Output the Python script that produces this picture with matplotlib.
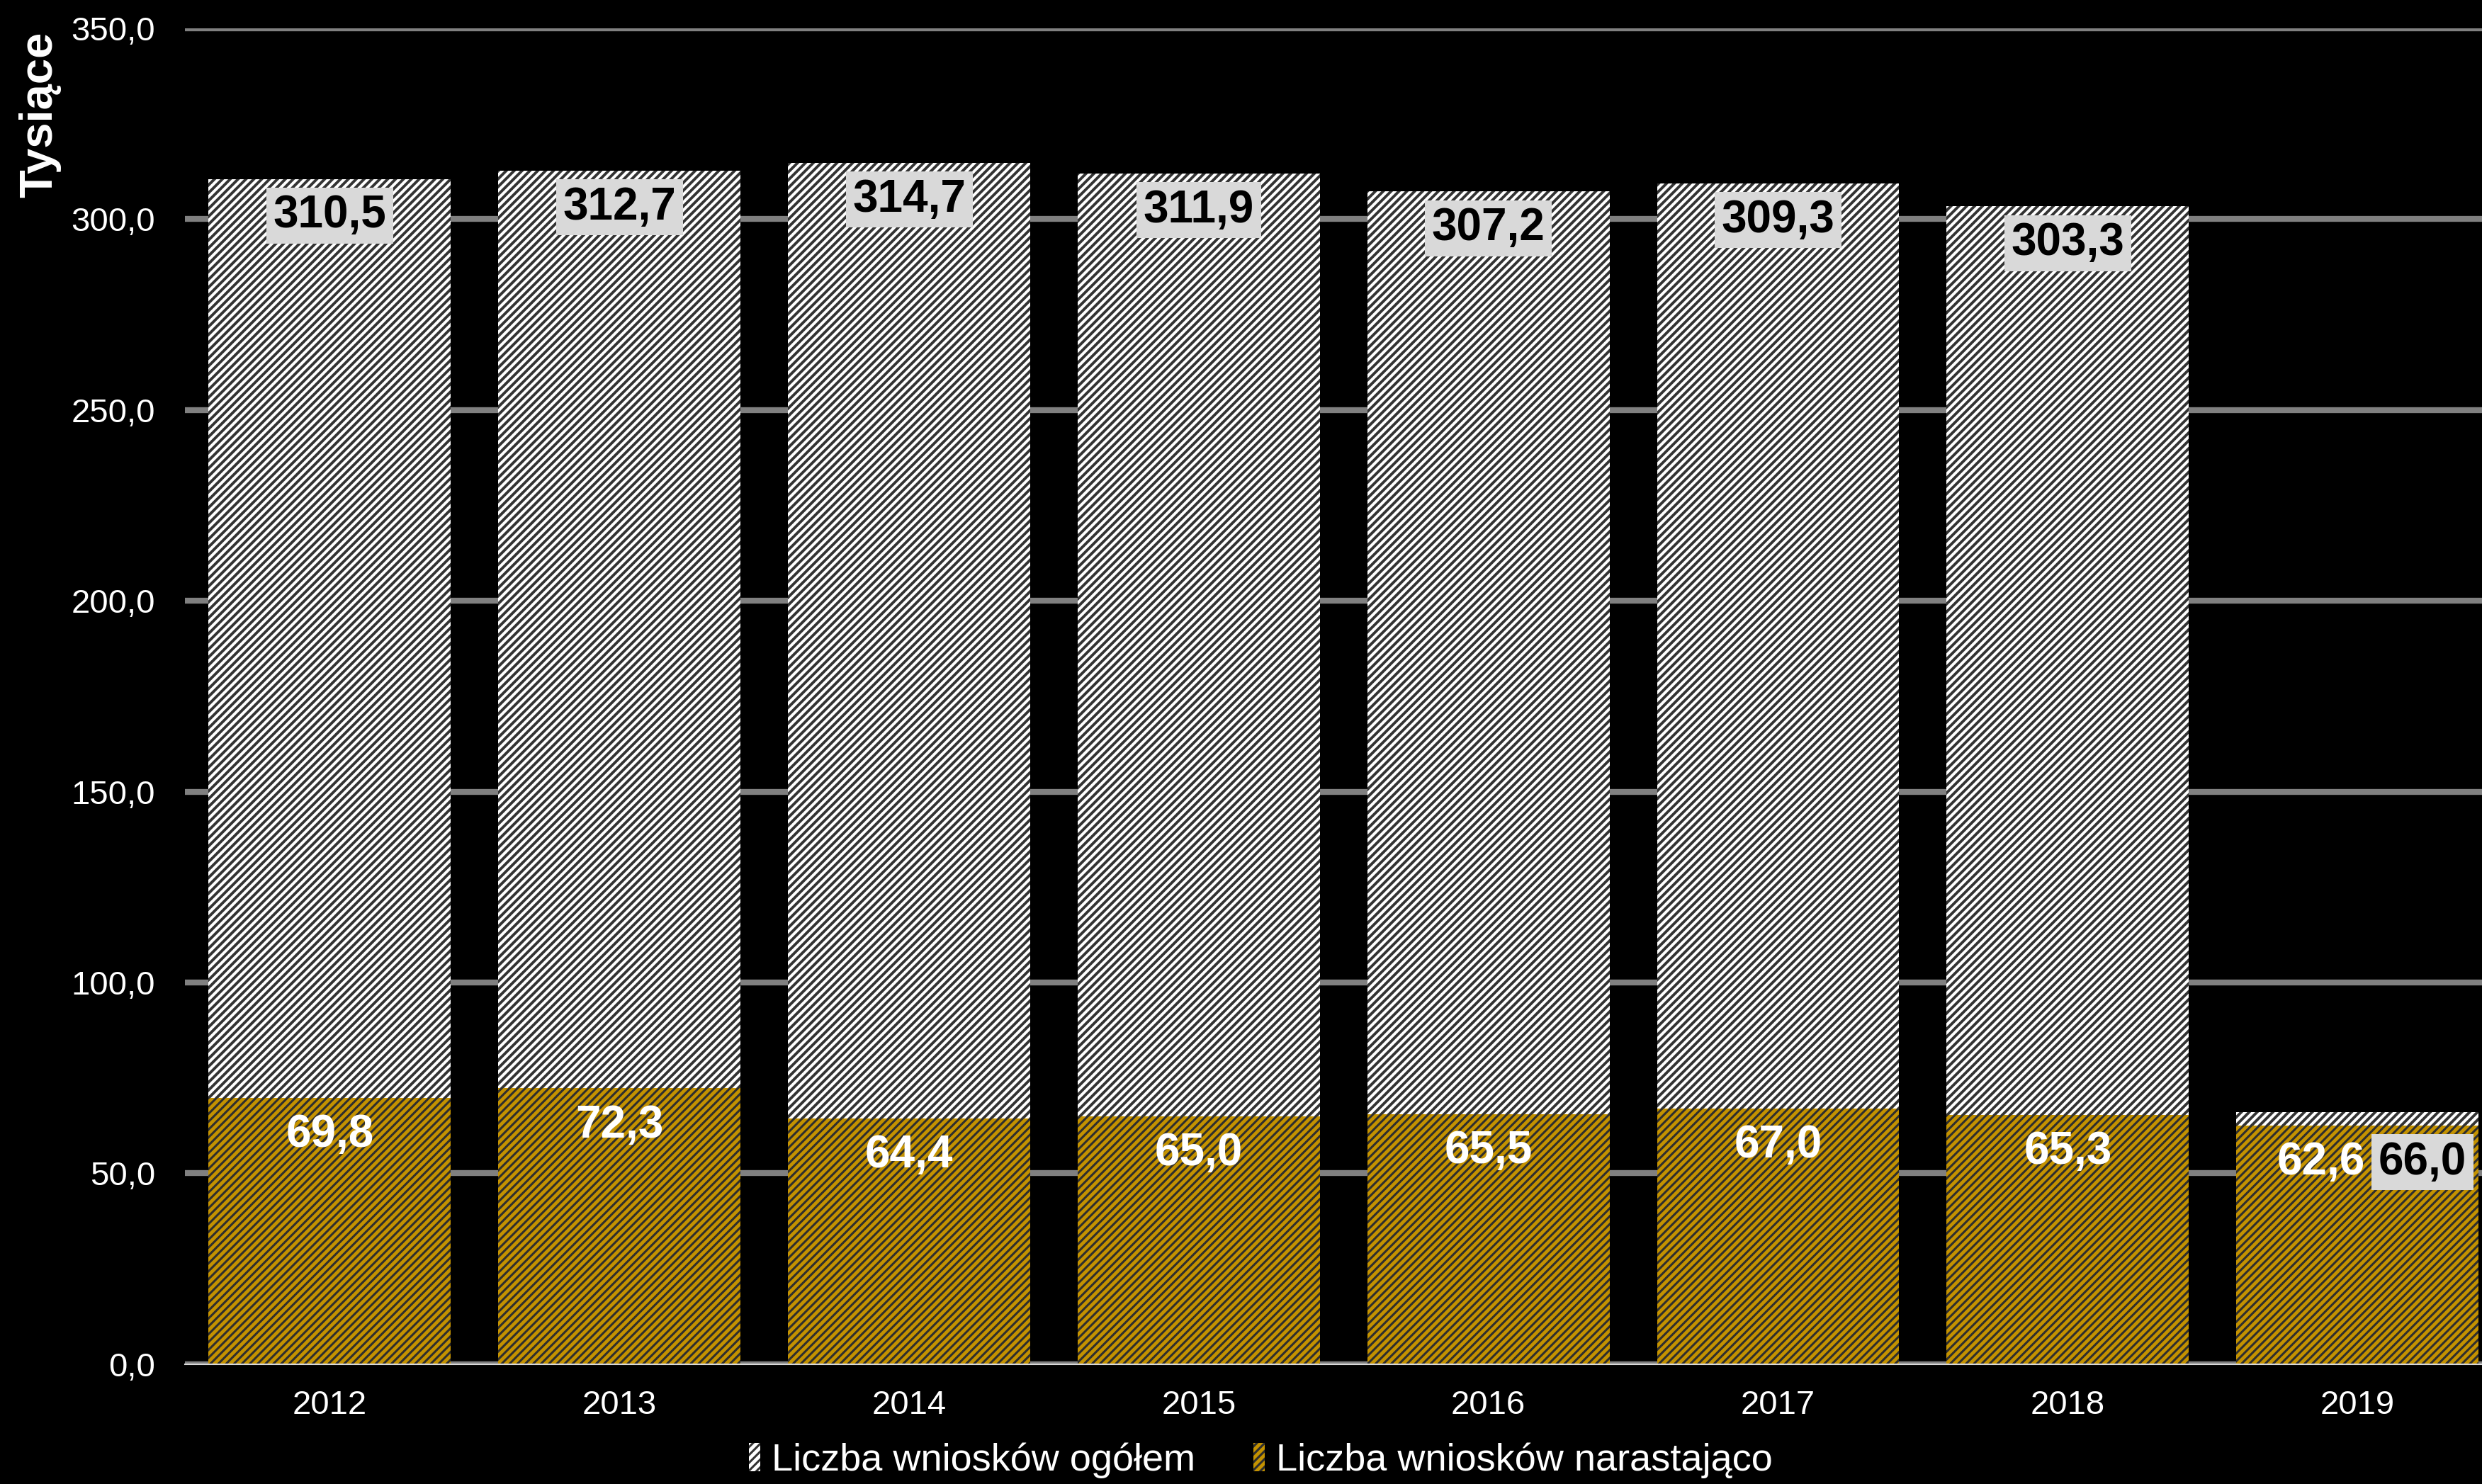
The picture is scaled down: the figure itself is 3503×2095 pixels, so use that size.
import matplotlib
matplotlib.use('Agg')
import matplotlib.pyplot as plt
from matplotlib.patches import Patch

# data (thousands)
years = ['2012', '2013', '2014', '2015', '2016', '2017', '2018', '2019']
ogolem = [310.5, 312.7, 314.7, 311.9, 307.2, 309.3, 303.3, 66.0]
narastajaco = [69.8, 72.3, 64.4, 65.0, 65.5, 67.0, 65.3, 62.6]
yticks = [0, 50, 100, 150, 200, 250, 300, 350]

label_ogolem = 'Liczba wniosków ogółem'
label_narast = 'Liczba wniosków narastająco'


def fmt(v):
    return f'{v:.1f}'.replace('.', ',')


plt.rcParams['font.family'] = ['Liberation Sans', 'DejaVu Sans']

grey_face, grey_hatch = '#FFFFFF', '#333333'
gold_face, gold_hatch = '#C49200', '#2E2E2E'

fig = plt.figure(figsize=(35.03, 20.95), dpi=100, facecolor='black')
ax = fig.add_axes([0.0745, 0.0807, 0.9255, 0.9003])
ax.set_facecolor('black')

x = list(range(len(years)))
width = 0.836
# hatch width is picked up when the patches are created
plt.rcParams['hatch.linewidth'] = 2.8
ax.bar(x, ogolem, width, color=grey_face, edgecolor=grey_hatch, linewidth=0, hatch='///', zorder=2)
h1 = Patch(facecolor=grey_face, edgecolor=grey_hatch, linewidth=0, hatch='///', label=label_ogolem)
plt.rcParams['hatch.linewidth'] = 2.2
ax.bar(x, narastajaco, width, color=gold_face, edgecolor=gold_hatch, linewidth=0, hatch='///', zorder=3)
h2 = Patch(facecolor=gold_face, edgecolor=gold_hatch, linewidth=0, hatch='///', label=label_narast)

# value labels
last = len(years) - 1
for i in x:
    yg = narastajaco[i] - 9.7
    dx = -0.127 if i == last else 0
    ax.text(i + dx, yg, fmt(narastajaco[i]), ha='center', va='center', color='white',
            fontsize=46, fontweight='bold', zorder=5)
    if i == last:
        xt, yt = i + 0.225, yg
    else:
        xt, yt = i, ogolem[i] - 9.6
    ax.text(xt, yt, fmt(ogolem[i]), ha='center', va='center', color='black',
            fontsize=46, fontweight='bold', zorder=5,
            bbox=dict(boxstyle='square,pad=0.15', facecolor='#D9D9D9', edgecolor='none'))

ax.set_ylim(0, 350)
ax.set_xlim(-0.5, 7.43)
ax.set_yticks(yticks)
ax.set_yticklabels([fmt(v) for v in yticks])
ax.set_xticks(x)
ax.set_xticklabels(years)
ax.tick_params(axis='y', length=0, pad=30, labelsize=34, labelcolor='white')
ax.tick_params(axis='x', length=0, pad=26, labelsize=34, labelcolor='white')

ax.yaxis.grid(True, color='#808080', linewidth=6)
ax.set_axisbelow(True)
for s in ['top', 'right', 'left']:
    ax.spines[s].set_visible(False)
ax.spines['bottom'].set_color('#D9D9D9')
ax.spines['bottom'].set_linewidth(1.5)
ax.spines['bottom'].set_zorder(4)

fig.text(56 / 3503, 1 - 45 / 2095, 'Tysiące', rotation=90, ha='center', va='top',
         color='white', fontsize=47, fontweight='bold')

fig.legend(handles=[h1, h2], loc='center', bbox_to_anchor=(0.508, 0.016), ncol=2, frameon=False,
           fontsize=39, labelcolor='white', handlelength=0.3, handleheight=0.75,
           handletextpad=0.3, columnspacing=1.5)

fig.savefig('out.png', dpi=100, facecolor='black')
